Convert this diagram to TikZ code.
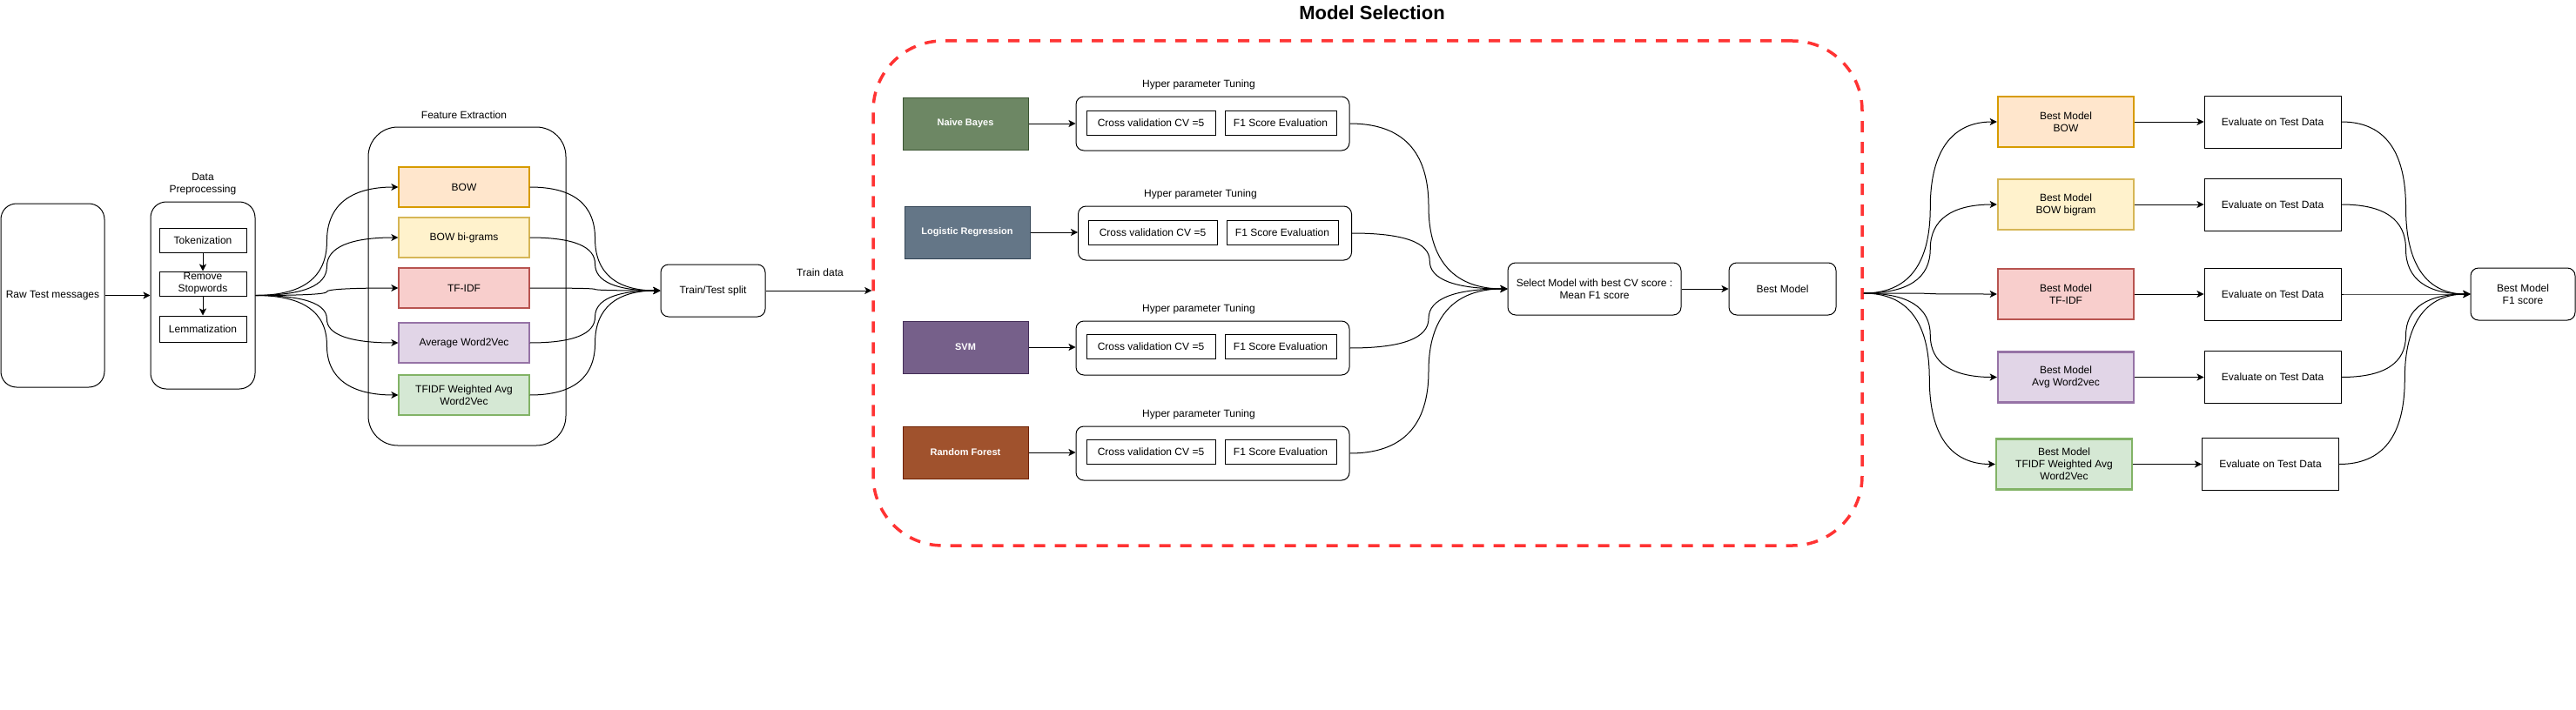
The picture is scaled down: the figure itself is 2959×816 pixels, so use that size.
\documentclass[tikz,border=0pt]{standalone}
\usepackage{fontspec}
\setmainfont{Liberation Sans}
\usetikzlibrary{arrows.meta,calc}
\definecolor{msred}{HTML}{FF3333}
\definecolor{bowF}{HTML}{FFE6CC}\definecolor{bowD}{HTML}{D79B00}
\definecolor{bigF}{HTML}{FFF2CC}\definecolor{bigD}{HTML}{D6B656}
\definecolor{tfF}{HTML}{F8CECC}\definecolor{tfD}{HTML}{B85450}
\definecolor{avF}{HTML}{E1D5E7}\definecolor{avD}{HTML}{9673A6}
\definecolor{twF}{HTML}{D5E8D4}\definecolor{twD}{HTML}{82B366}
\definecolor{nbF}{HTML}{6D8764}\definecolor{nbD}{HTML}{3A5431}
\definecolor{lrF}{HTML}{647687}\definecolor{lrD}{HTML}{314354}
\definecolor{svF}{HTML}{76608A}\definecolor{svD}{HTML}{432D57}
\definecolor{rfF}{HTML}{A0522D}\definecolor{rfD}{HTML}{6D1F00}
\begin{document}
\begin{tikzpicture}[x=1pt,y=-1pt,line width=1pt,
  font=\fontsize{12}{14}\selectfont,
  sz/.style 2 args={minimum width=#1pt,minimum height=#2pt},
  rbox/.style={draw=black,rounded corners=9pt,inner sep=0pt,align=center},
  sbox/.style={draw=black,inner sep=0pt,align=center},
  lbl/.style={inner sep=0pt,align=center},
  feat/.style 2 args={draw=#1,fill=#2,line width=1.2pt,inner sep=0pt,align=center,minimum width=150pt,minimum height=46pt},
  mdl/.style 2 args={draw=#1,fill=#2,text=white,font=\fontsize{11}{13}\selectfont\bfseries,inner sep=0pt,minimum width=144pt,minimum height=60pt},
  bmbox/.style 2 args={draw=#1,fill=#2,line width=2.5pt,inner sep=0pt,align=center,minimum width=156pt,minimum height=58pt},
  arr/.style={-{Stealth[length=8pt,width=8pt,inset=2pt]}},
  fan/.style={to path={let \p1=(\tikztostart), \p2=(\tikztotarget), \p3=($(\p1)!0.5!(\p2)$) in
     .. controls ({(\x1+2*\x3)/3},\y1) and (\x3,{(2*\y1+\y3)/3}) .. (\x3,\y3)
     .. controls (\x3,{(\y3+2*\y2)/3}) and ({(\x2+2*\x3)/3},\y2) .. (\x2,\y2) \tikztonodes}}
]
\useasboundingbox (0,0) rectangle (2959,816);

% left part
\node[rbox,rounded corners=18pt,sz={119}{211}] (raw) at (60.5,339.5) {Raw Test messages};
\node[rbox,rounded corners=18pt,sz={120}{215}] (dp) at (233,339.5) {};
\node[lbl] (dpl) at (233,212) {Data\\Preprocessing};
\node[sbox,sz={100}{28}] (tok) at (233,276) {Tokenization};
\node[sbox,sz={100}{28}] (rem) at (233,326) {Remove\\Stopwords};
\node[sbox,sz={100}{30}] (lem) at (233,378) {Lemmatization};

\node[rbox,rounded corners=34pt,sz={227}{366}] (fe) at (536.5,329) {};
\node[lbl] (fel) at (533,132) {Feature Extraction};
\node[feat={bowD}{bowF}] (bow) at (533,215) {BOW};
\node[feat={bigD}{bigF}] (bigr) at (533,273) {BOW bi-grams};
\node[feat={tfD}{tfF}] (tfidf) at (533,331) {TF-IDF};
\node[feat={avD}{avF}] (avgw) at (533,394) {Average Word2Vec};
\node[feat={twD}{twF}] (tfw) at (533,454) {TFIDF Weighted Avg\\Word2Vec};

\node[rbox,sz={120}{60}] (split) at (819,334) {Train/Test split};
\node[lbl] (td) at (942,313) {Train data};

% model selection
\node[draw=msred,line width=3.5pt,dash pattern=on 13pt off 11pt,rounded corners=80pt,
  minimum width=1136pt,minimum height=580pt,inner sep=0pt] (ms) at (1571,337) {};
\node[lbl,font=\fontsize{22}{26}\selectfont\bfseries] (mst) at (1576,15) {Model Selection};

\node[mdl={nbD}{nbF}] (nb) at (1109,142) {Naive Bayes};
\node[mdl={lrD}{lrF}] (lr) at (1111,267) {Logistic Regression};
\node[mdl={svD}{svF}] (svm) at (1109,399) {SVM};
\node[mdl={rfD}{rfF}] (rf) at (1109,520) {Random Forest};

\node[rbox,sz={314}{62}] (hp1) at (1393,142) {};
\node[rbox,sz={314}{62}] (hp2) at (1395.5,268) {};
\node[rbox,sz={314}{62}] (hp3) at (1393,400) {};
\node[rbox,sz={314}{62}] (hp4) at (1393,521) {};
\node[lbl] (hl1) at (1377,97) {Hyper parameter Tuning};
\node[lbl] (hl2) at (1379,223) {Hyper parameter Tuning};
\node[lbl] (hl3) at (1377,355) {Hyper parameter Tuning};
\node[lbl] (hl4) at (1377,476) {Hyper parameter Tuning};

\node[sbox,sz={148}{28}] (cv1) at (1322,141) {Cross validation CV =5};
\node[sbox,sz={148}{28}] (cv2) at (1324,267.5) {Cross validation CV =5};
\node[sbox,sz={148}{28}] (cv3) at (1322,398.5) {Cross validation CV =5};
\node[sbox,sz={148}{28}] (cv4) at (1322,519.5) {Cross validation CV =5};
\node[sbox,sz={128}{28}] (fs1) at (1471,141) {F1 Score Evaluation};
\node[sbox,sz={128}{28}] (fs2) at (1473,267.5) {F1 Score Evaluation};
\node[sbox,sz={128}{28}] (fs3) at (1471,398.5) {F1 Score Evaluation};
\node[sbox,sz={128}{28}] (fs4) at (1471,519.5) {F1 Score Evaluation};

\node[rbox,sz={199}{60}] (sel) at (1831.5,332) {Select Model with best CV score :\\Mean F1 score};
\node[rbox,sz={123}{60}] (best) at (2047.5,332) {Best Model};

% right part
\node[bmbox={bowD}{bowF}] (bm1) at (2373,140) {Best Model\\BOW};
\node[bmbox={bigD}{bigF}] (bm2) at (2373,235) {Best Model\\BOW bigram};
\node[bmbox={tfD}{tfF}] (bm3) at (2373,338) {Best Model\\TF-IDF};
\node[bmbox={avD}{avF}] (bm4) at (2373,433.5) {Best Model\\Avg Word2vec};
\node[bmbox={twD}{twF}] (bm5) at (2371,533.5) {Best Model\\TFIDF Weighted Avg\\Word2Vec};

\node[sbox,sz={157}{60}] (ev1) at (2610.5,140) {Evaluate on Test Data};
\node[sbox,sz={157}{60}] (ev2) at (2610.5,235) {Evaluate on Test Data};
\node[sbox,sz={157}{60}] (ev3) at (2610.5,338) {Evaluate on Test Data};
\node[sbox,sz={157}{60}] (ev4) at (2610.5,433.5) {Evaluate on Test Data};
\node[sbox,sz={157}{60}] (ev5) at (2608,533.5) {Evaluate on Test Data};

\node[rbox,sz={120}{60}] (fin) at (2898,338) {Best Model\\F1 score};

% connectors
\draw[arr] (raw.east) -- (dp.west);
\draw[arr] (tok) -- (rem);
\draw[arr] (rem) -- (lem);
\foreach \nm in {bow,bigr,tfidf,avgw,tfw} {
  \draw[arr] (dp.east) to[fan] (\nm.west);
  \draw[arr] (\nm.east) to[fan] (split.west);
}
\draw[arr] (split.east) -- (split.east -| ms.west);
\draw[arr] (nb.east) -- (nb.east -| hp1.west);
\draw[arr] (lr.east) -- (lr.east -| hp2.west);
\draw[arr] (svm.east) -- (svm.east -| hp3.west);
\draw[arr] (rf.east) -- (rf.east -| hp4.west);
\foreach \nm in {hp1,hp2,hp3,hp4} {
  \draw[arr] (\nm.east) to[fan] (sel.west);
}
\draw[arr] (sel) -- (best);
\foreach \k in {1,...,5} {
  \draw[arr] (ms.east) to[fan] (bm\k.west);
  \draw[arr] (bm\k.east) -- (bm\k.east -| ev\k.west);
  \draw[arr] (ev\k.east) to[fan] (fin.west);
}
\end{tikzpicture}
\end{document}
